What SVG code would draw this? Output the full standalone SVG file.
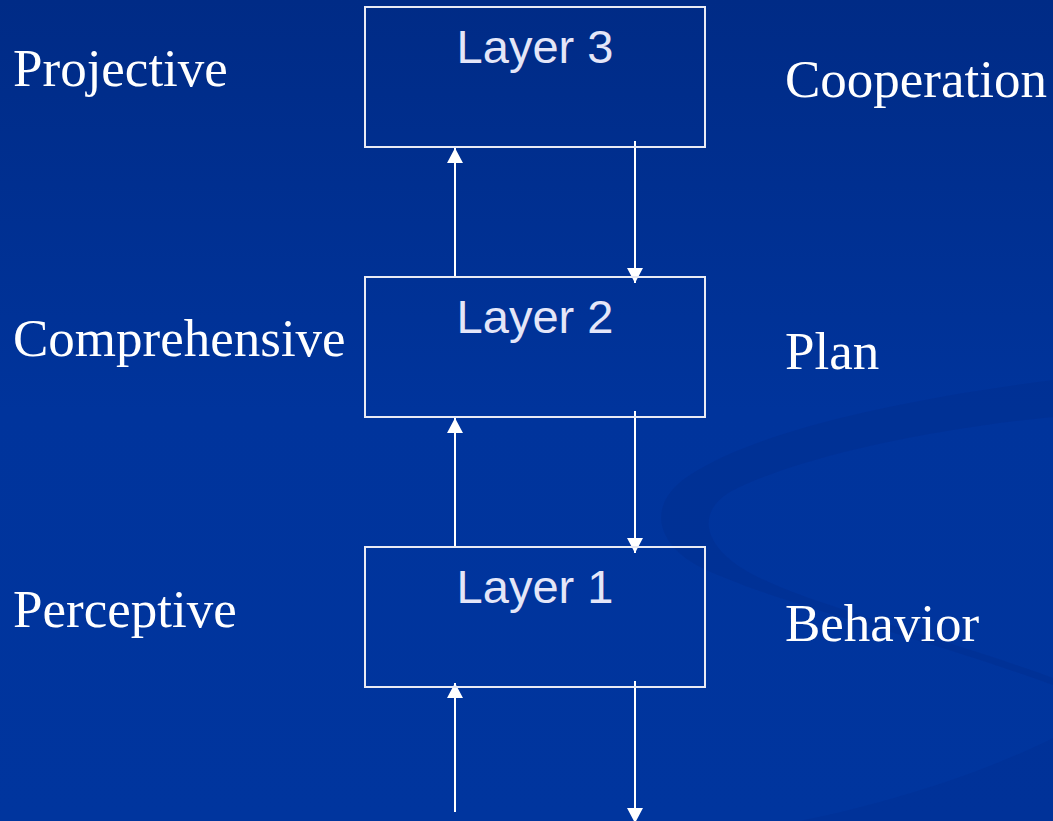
<svg xmlns="http://www.w3.org/2000/svg" width="1053" height="821" viewBox="0 0 1053 821">
  <defs>
    <linearGradient id="bg" x1="0" y1="0" x2="0" y2="1">
      <stop offset="0" stop-color="#002b86"/>
      <stop offset="0.5" stop-color="#00349c"/>
      <stop offset="1" stop-color="#00359e"/>
    </linearGradient>
    <marker id="ah" markerUnits="userSpaceOnUse" markerWidth="17" markerHeight="17" refX="15" refY="8" orient="auto" viewBox="0 0 17 17">
      <path d="M0,0 L15,8 L0,16 Z" fill="#ffffff"/>
    </marker>
    <style>
      .box { fill: none; stroke: #e8eaf4; stroke-width: 2; }
      .layer { font-family: "Liberation Sans", Arial, sans-serif; font-size: 47px; fill: #e4e6f8; text-anchor: middle; }
      .lbl { font-family: "Liberation Serif", "Times New Roman", serif; font-size: 53px; fill: #ffffff; }
      .conn { stroke: #ffffff; stroke-width: 2; fill: none; marker-end: url(#ah); }
    </style>
  </defs>
  <rect x="0" y="0" width="1053" height="821" fill="url(#bg)"/>
  <g id="background-swoosh">
    <path d="M1053,380 C900,400 760,430 690,475 C650,500 650,540 700,567 C780,605 900,630 1053,685 L1053,678 C920,630 790,600 740,567 C700,540 700,510 730,492 C790,460 920,430 1053,417 Z" fill="#002d8c" opacity="0.4"/>
    <path d="M1053,738 C980,775 880,805 800,821 L1053,821 Z" fill="#002f8e" opacity="0.35"/>
  </g>
  <g id="connectors">
    <line class="conn" x1="455" y1="277" x2="455" y2="148"/>
    <line class="conn" x1="635" y1="141" x2="635" y2="283"/>
    <line class="conn" x1="455" y1="547" x2="455" y2="418"/>
    <line class="conn" x1="635" y1="411" x2="635" y2="553"/>
    <line class="conn" x1="455" y1="812" x2="455" y2="683"/>
    <line class="conn" x1="635" y1="681" x2="635" y2="823"/>
  </g>
  <g id="layer3">
    <rect class="box" x="365" y="7" width="340" height="140"/>
    <text class="layer" x="535" y="63">Layer 3</text>
  </g>
  <g id="layer2">
    <rect class="box" x="365" y="277" width="340" height="140"/>
    <text class="layer" x="535" y="333">Layer 2</text>
  </g>
  <g id="layer1">
    <rect class="box" x="365" y="547" width="340" height="140"/>
    <text class="layer" x="535" y="603">Layer 1</text>
  </g>
  <g id="labels-left">
    <text class="lbl" x="13" y="86">Projective</text>
    <text class="lbl" x="13" y="356">Comprehensive</text>
    <text class="lbl" x="13" y="627">Perceptive</text>
  </g>
  <g id="labels-right">
    <text class="lbl" x="785" y="97">Cooperation</text>
    <text class="lbl" x="785" y="369">Plan</text>
    <text class="lbl" x="785" y="641">Behavior</text>
  </g>
</svg>
